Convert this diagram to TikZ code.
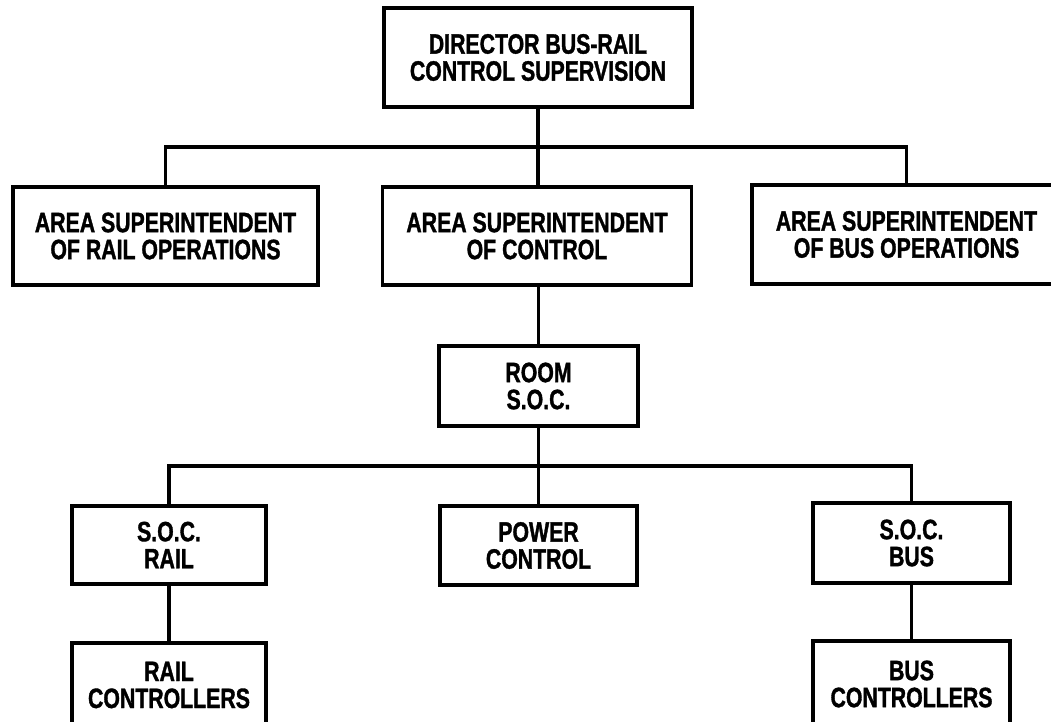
\documentclass[tikz,border=0pt]{standalone}
\usepackage{fontspec}
\newfontfamily\chartfont{Liberation Sans}[FakeStretch=0.76, FakeBold=1.2]
\tikzset{
  orgbox/.style={draw, line width=3.2pt, align=center, inner sep=0pt,
    font=\chartfont\bfseries\fontsize{28}{27}\selectfont},
  link/.style={line width=3.2pt}
}
\begin{document}
\begin{tikzpicture}[x=1pt, y=-1pt]
  \useasboundingbox (0,0) rectangle (1051,721);
  \fill[white] (0,0) rectangle (1051,721);
  \clip (0,0) rectangle (1051,721);

  % top level
  \node[orgbox, minimum width=308pt, minimum height=99pt] (dir) at (538,57.5)
    {DIRECTOR BUS-RAIL\\CONTROL SUPERVISION};

  % area superintendents
  \node[orgbox, minimum width=305pt, minimum height=98pt] (rail) at (165.5,236)
    {AREA SUPERINTENDENT\\OF RAIL OPERATIONS};
  \node[orgbox, minimum width=309pt, minimum height=98pt] (ctrl) at (537,236)
    {AREA SUPERINTENDENT\\OF CONTROL};
  \node[orgbox, minimum width=309pt, minimum height=99pt] (bus) at (906.5,234.5)
    {AREA SUPERINTENDENT\\OF BUS OPERATIONS};

  % control room
  \node[orgbox, minimum width=199pt, minimum height=80pt] (room) at (538.5,386)
    {ROOM\\S.O.C.};

  % room sections
  \node[orgbox, minimum width=194pt, minimum height=78pt] (socrail) at (169,545)
    {S.O.C.\\RAIL};
  \node[orgbox, minimum width=197pt, minimum height=79pt] (power) at (538.5,545.5)
    {POWER\\CONTROL};
  \node[orgbox, minimum width=197pt, minimum height=80pt] (socbus) at (911.5,543)
    {S.O.C.\\BUS};

  % controllers
  \node[orgbox, minimum width=194pt, minimum height=84pt] (railc) at (169,685)
    {RAIL\\CONTROLLERS};
  \node[orgbox, minimum width=197pt, minimum height=86pt] (busc) at (911.5,684)
    {BUS\\CONTROLLERS};

  % junctions of the two horizontal bars
  \coordinate (bar1) at (538,147);
  \coordinate (bar2) at (538,466);

  % connectors
  \draw[link] (dir.south) -- (dir.south |- ctrl.north);
  \draw[link] (rail.north) |- (bar1) -| (bus.north);
  \draw[link] (ctrl.south -| room.north) -- (room.north);
  \draw[link] (room.south) -- (power.north);
  \draw[link] (socrail.north) |- (bar2) -| (socbus.north);
  \draw[link] (socrail.south) -- (railc.north);
  \draw[link] (socbus.south) -- (busc.north);
\end{tikzpicture}
\end{document}
